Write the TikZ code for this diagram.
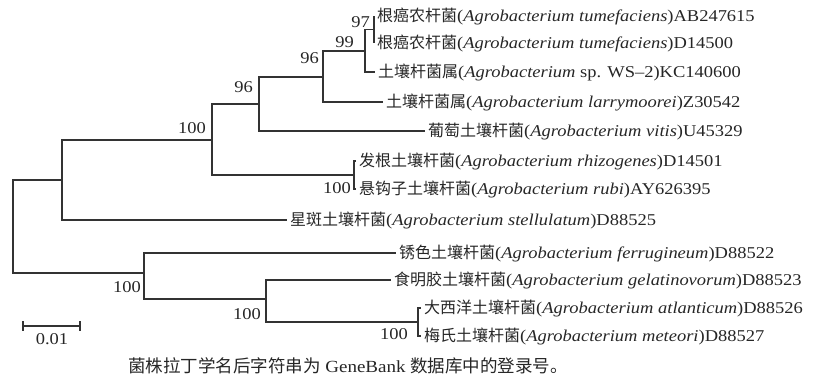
\documentclass[tikz,border=0pt]{standalone}
\usepackage{fontspec}
\setmainfont{Liberation Serif}[FakeStretch=1.12]
\newfontfamily\cjk{Noto Sans CJK SC}
\usetikzlibrary{positioning}
\newcommand\zh[1]{{\cjk\fontsize{16}{18}\selectfont #1}}

\begin{document}
\begin{tikzpicture}[
      x=1pt,y=-1pt,
      branch/.style={draw=black!80,line width=1.1pt},
      leaf/.style={anchor=west,inner ysep=0pt,inner xsep=3pt,text=black!85,
        font=\fontsize{16.5}{18}\selectfont},
      boot/.style={anchor=east,inner sep=0pt,text=black!85,
        font=\fontsize{16.5}{18}\selectfont}]
    \useasboundingbox (0,0) rectangle (817,383);

    % inner nodes of the tree
    \coordinate (n0) at (13,226);
    \coordinate (nA) at (62,180);
    \coordinate (nB) at (212,140);
    \coordinate (nC) at (259,104);
    \coordinate (nD) at (323,77);
    \coordinate (nE) at (365,51);
    \coordinate (nF) at (374,29.5);
    \coordinate (nR) at (354,175);
    \coordinate (nG) at (144,273);
    \coordinate (nH) at (266,299);
    \coordinate (nI) at (418,322);

    % leaves
    \node[leaf] (t1) at (374,16) {\zh{根癌农杆菌}(\textit{Agrobacterium tumefaciens})AB247615};
    \node[leaf] (t2) at (374,43) {\zh{根癌农杆菌}(\textit{Agrobacterium tumefaciens})D14500};
    \node[leaf] (t3) at (375,72) {\zh{土壤杆菌属}(\textit{Agrobacterium} sp. WS\textendash2)KC140600};
    \node[leaf] (t4) at (383,102) {\zh{土壤杆菌属}(\textit{Agrobacterium larrymoorei})Z30542};
    \node[leaf] (t5) at (425,131) {\zh{葡萄土壤杆菌}(\textit{Agrobacterium vitis})U45329};
    \node[leaf] (t6) at (356,161) {\zh{发根土壤杆菌}(\textit{Agrobacterium rhizogenes})D14501};
    \node[leaf] (t7) at (356,189) {\zh{悬钩子土壤杆菌}(\textit{Agrobacterium rubi})AY626395};
    \node[leaf] (t8) at (287,220) {\zh{星斑土壤杆菌}(\textit{Agrobacterium stellulatum})D88525};
    \node[leaf] (t9) at (396,253) {\zh{锈色土壤杆菌}(\textit{Agrobacterium ferrugineum})D88522};
    \node[leaf] (t10) at (391,280) {\zh{食明胶土壤杆菌}(\textit{Agrobacterium gelatinovorum})D88523};
    \node[leaf] (t11) at (421,308) {\zh{大西洋土壤杆菌}(\textit{Agrobacterium atlanticum})D88526};
    \node[leaf] (t12) at (421,336) {\zh{梅氏土壤杆菌}(\textit{Agrobacterium meteori})D88527};

    % bootstrap values
    \node[boot] (b1) at (370,22) {97};
    \node[boot] (b2) at (354,42) {99};
    \node[boot] (b3) at (319,58) {96};
    \node[boot] (b4) at (253,87) {96};
    \node[boot] (b5) at (206,128) {100};
    \node[boot] (b6) at (351,188) {100};
    \node[boot] (b7) at (141,287) {100};
    \node[boot] (b8) at (261,314) {100};
    \node[boot] (b9) at (408,334) {100};

    \draw[branch] (nF) |- (t1.west);
    \draw[branch] (nF) |- (t2.west);
    \draw[branch] (nE) |- (nF);
    \draw[branch] (nE) |- (t3.west);
    \draw[branch] (nD) |- (nE);
    \draw[branch] (nD) |- (t4.west);
    \draw[branch] (nC) |- (nD);
    \draw[branch] (nC) |- (t5.west);
    \draw[branch] (nR) |- (t6.west);
    \draw[branch] (nR) |- (t7.west);
    \draw[branch] (nB) |- (nC);
    \draw[branch] (nB) |- (nR);
    \draw[branch] (nA) |- (nB);
    \draw[branch] (nA) |- (t8.west);
    \draw[branch] (n0) |- (nA);
    \draw[branch] (n0) |- (nG);
    \draw[branch] (nG) |- (t9.west);
    \draw[branch] (nG) |- (nH);
    \draw[branch] (nH) |- (t10.west);
    \draw[branch] (nH) |- (nI);
    \draw[branch] (nI) |- (t11.west);
    \draw[branch] (nI) |- (t12.west);

    % scale bar
    \coordinate (s0) at (23,326);
    \coordinate (s1) at (80,326);
    \draw[branch] (s0) -- (s1);
    \draw[branch] ([yshift=5pt]s0) -- ([yshift=-5pt]s0);
    \draw[branch] ([yshift=5pt]s1) -- ([yshift=-5pt]s1);
    \node[boot,anchor=center] (sl) at (52,339) {0.01};

    \node[text=black!85,font=\fontsize{17}{19}\selectfont] (cap) at (348,366)
      {{\cjk\fontsize{17.5}{19}\selectfont 菌株拉丁学名后字符串为} GeneBank {\cjk\fontsize{17.5}{19}\selectfont 数据库中的登录号。}};
  \end{tikzpicture}
\end{document}
